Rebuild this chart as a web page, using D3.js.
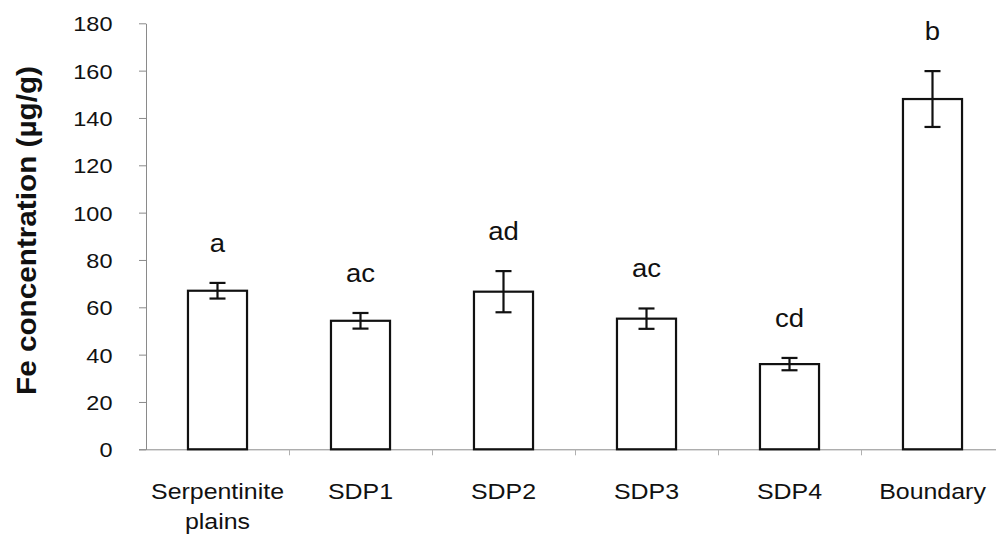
<!DOCTYPE html>
<html>
<head>
<meta charset="utf-8">
<script src="https://cdn.jsdelivr.net/npm/d3@7/dist/d3.min.js"></script>
<style>
  html, body { margin: 0; padding: 0; background: #fff; }
  svg { display: block; }
  text { font-family: "Liberation Sans", Arial, Helvetica, sans-serif; fill: #111; }
</style>
</head>
<body>
<svg id="chart" width="996" height="540"></svg>
<script>
// Fe concentration by site, mean ± SE, with significance-group letters
const categories = ["Serpentinite plains", "SDP1", "SDP2", "SDP3", "SDP4", "Boundary"];
const tickLabelLines = [["Serpentinite", "plains"], ["SDP1"], ["SDP2"], ["SDP3"], ["SDP4"], ["Boundary"]];
const means = [67, 54.3, 66.6, 55.2, 36, 148];
const stdErrors = [3.3, 3.3, 8.7, 4.3, 2.6, 11.8];
const groupLetters = ["a", "ac", "ad", "ac", "cd", "b"];
const yTicks = [0, 20, 40, 60, 80, 100, 120, 140, 160, 180];
const yTitle = "Fe concentration (µg/g)";

const rows = categories.map((c, i) => ({
  cat: c, lines: tickLabelLines[i], mean: means[i], se: stdErrors[i], letter: groupLetters[i]
}));

const svg = d3.select("#chart");
const plotLeft = 146, plotRight = 1004, plotTop = 23.3, plotBottom = 449.3;

const y = d3.scaleLinear().domain([0, 180]).range([plotBottom, plotTop]);
const x = d3.scaleBand().domain(categories).range([plotLeft, plotRight]).padding(0);
const idx = d3.scaleLinear().domain([0, categories.length]).range([plotLeft, plotRight]);
const barW = x.bandwidth() * 0.413;
const capW = 16;

// y axis
const yAxis = svg.append("g")
  .attr("transform", `translate(${plotLeft},0)`)
  .call(d3.axisLeft(y).tickValues(yTicks).tickSize(7).tickSizeOuter(0).tickPadding(0));
yAxis.select(".domain").attr("stroke", "#8a8a8a").attr("stroke-width", 1);
yAxis.selectAll(".tick line").attr("stroke", "#8a8a8a");
yAxis.selectAll(".tick text")
  .attr("x", null).attr("dy", "0.36em")
  .attr("transform", "translate(-33.5,0) scale(1.12,1)")
  .style("font-size", "21px").style("fill", "#111");

// x axis: ticks sit on category boundaries
const xAxis = svg.append("g")
  .attr("transform", `translate(0,${plotBottom})`)
  .call(d3.axisBottom(idx).tickValues(d3.range(1, categories.length)).tickFormat("").tickSize(6).tickSizeOuter(0));
xAxis.select(".domain").attr("stroke", "#8a8a8a").attr("stroke-width", 1)
  .attr("d", `M${plotLeft - 7},0.5H${plotRight}`);
xAxis.selectAll(".tick line").attr("stroke", "#b0b0b0");

// category labels
const labels = svg.append("g").selectAll("text").data(rows).join("text")
  .attr("text-anchor", "middle")
  .attr("transform", d => `translate(${x(d.cat) + x.bandwidth() / 2},498.5) scale(1.16,1)`)
  .style("font-size", "21.5px");
labels.selectAll("tspan").data(d => d.lines).join("tspan")
  .attr("x", 0).attr("y", (d, i) => i * 31)
  .text(d => d);

// bars
svg.append("g").selectAll("rect").data(rows).join("rect")
  .attr("x", d => x(d.cat) + (x.bandwidth() - barW) / 2)
  .attr("y", d => y(d.mean))
  .attr("width", barW)
  .attr("height", d => y(0) - y(d.mean))
  .attr("fill", "#fff").attr("stroke", "#111").attr("stroke-width", 2.2);

// error bars
const eb = svg.append("g").selectAll("g").data(rows).join("g")
  .attr("transform", d => `translate(${x(d.cat) + x.bandwidth() / 2},0)`)
  .attr("stroke", "#111").attr("stroke-width", 2.2);
eb.append("line").attr("x1", 0).attr("x2", 0)
  .attr("y1", d => y(d.mean + d.se)).attr("y2", d => y(d.mean - d.se));
eb.append("line").attr("x1", -capW / 2).attr("x2", capW / 2)
  .attr("y1", d => y(d.mean + d.se)).attr("y2", d => y(d.mean + d.se));
eb.append("line").attr("x1", -capW / 2).attr("x2", capW / 2)
  .attr("y1", d => y(d.mean - d.se)).attr("y2", d => y(d.mean - d.se));

// significance letters
svg.append("g").selectAll("text").data(rows).join("text")
  .attr("text-anchor", "middle")
  .attr("transform", d => `translate(${x(d.cat) + x.bandwidth() / 2},${y(d.mean + d.se) - 31}) scale(1.1,1)`)
  .style("font-size", "25px")
  .text(d => d.letter);

// y axis title
svg.append("text")
  .attr("text-anchor", "middle")
  .attr("transform", "translate(36,230.5) rotate(-90) scale(1.1,1)")
  .style("font-size", "27px").style("font-weight", "bold")
  .text(yTitle);
</script>
</body>
</html>
